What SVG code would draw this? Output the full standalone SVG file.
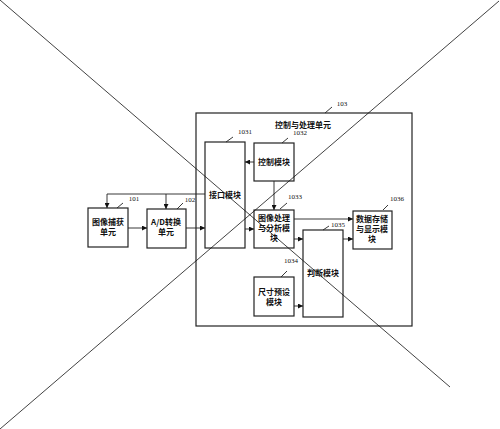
<svg xmlns="http://www.w3.org/2000/svg" width="500" height="429" viewBox="0 0 500 429">
<style>
.box{fill:#fff;stroke:#222;stroke-width:1.2}
.ln{fill:none;stroke:#222;stroke-width:0.9}
.t{font-family:"Noto Sans CJK SC","Liberation Serif",serif;font-size:8px;font-weight:bold;fill:#111;text-anchor:middle}
.n{font-family:"Liberation Serif",serif;font-size:7px;fill:#111;text-anchor:middle}
.x{stroke:#111;stroke-width:0.8;fill:none}
</style>
<defs>
<marker id="a" viewBox="0 0 6 6" refX="6" refY="3" markerWidth="5" markerHeight="5" orient="auto" markerUnits="userSpaceOnUse">
<path d="M0,0 L6,3 L0,6 Z" fill="#111"/>
</marker>
</defs>
<rect width="500" height="429" fill="#fff"/>
<g id="n103">
<rect class="box" x="196" y="113" width="216" height="213"/>
<text class="t" x="303" y="128">控制与处理单元</text>
<line class="ln" x1="325" y1="113" x2="332" y2="107"/>
<text class="n" x="342" y="106">103</text>
</g>
<g id="n101">
<rect class="box" x="88" y="208" width="40" height="39"/>
<text class="t" x="108" y="225">图像捕获</text>
<text class="t" x="108" y="235">单元</text>
<line class="ln" x1="117" y1="208" x2="123" y2="203"/>
<text class="n" x="134" y="201">101</text>
</g>
<g id="n102">
<rect class="box" x="147" y="209" width="39" height="39"/>
<text class="t" x="166" y="225">A/D转换</text>
<text class="t" x="166" y="235">单元</text>
<line class="ln" x1="177" y1="209" x2="183" y2="203"/>
<text class="n" x="190" y="202">102</text>
</g>
<g id="n1031">
<rect class="box" x="205" y="142" width="40" height="106"/>
<text class="t" x="225" y="198">接口模块</text>
<line class="ln" x1="226" y1="142" x2="233" y2="137"/>
<text class="n" x="245" y="134">1031</text>
</g>
<g id="n1032">
<rect class="box" x="254" y="143" width="40" height="38"/>
<text class="t" x="274" y="165">控制模块</text>
<line class="ln" x1="282" y1="143" x2="288" y2="138"/>
<text class="n" x="300" y="135">1032</text>
</g>
<g id="n1033">
<rect class="box" x="254" y="210" width="40" height="38"/>
<text class="t" x="274" y="221">图像处理</text>
<text class="t" x="274" y="231">与分析模</text>
<text class="t" x="274" y="241">块</text>
<line class="ln" x1="280" y1="209" x2="287" y2="203"/>
<text class="n" x="295" y="199">1033</text>
</g>
<g id="n1034">
<rect class="box" x="254" y="277" width="40" height="39"/>
<text class="t" x="274" y="295">尺寸预设</text>
<text class="t" x="274" y="305">模块</text>
<line class="ln" x1="281" y1="277" x2="287" y2="271"/>
<text class="n" x="291" y="263">1034</text>
</g>
<g id="n1035">
<rect class="box" x="303" y="230" width="40" height="87"/>
<text class="t" x="323" y="276">判断模块</text>
<line class="ln" x1="323" y1="230" x2="329" y2="226"/>
<text class="n" x="338" y="227">1035</text>
</g>
<g id="n1036">
<rect class="box" x="353" y="211" width="39" height="38"/>
<text class="t" x="372" y="222">数据存储</text>
<text class="t" x="372" y="232">与显示模</text>
<text class="t" x="372" y="242">块</text>
<line class="ln" x1="383" y1="210" x2="388" y2="205"/>
<text class="n" x="397" y="201">1036</text>
</g>
<g id="connectors">
<line class="ln" x1="128" y1="228" x2="147" y2="228" marker-end="url(#a)"/>
<line class="ln" x1="186" y1="228" x2="205" y2="228" marker-end="url(#a)"/>
<polyline class="ln" points="205,194 107,194 107,208" marker-end="url(#a)"/>
<line class="ln" x1="166" y1="194" x2="166" y2="209" marker-end="url(#a)"/>
<line class="ln" x1="254" y1="162" x2="245" y2="162" marker-end="url(#a)"/>
<line class="ln" x1="274" y1="181" x2="274" y2="210" marker-end="url(#a)"/>
<line class="ln" x1="245" y1="229" x2="254" y2="229" marker-end="url(#a)"/>
<line class="ln" x1="294" y1="219" x2="353" y2="219" marker-end="url(#a)"/>
<line class="ln" x1="294" y1="239" x2="303" y2="239" marker-end="url(#a)"/>
<line class="ln" x1="294" y1="306" x2="303" y2="306" marker-end="url(#a)"/>
<line class="ln" x1="343" y1="239" x2="353" y2="239" marker-end="url(#a)"/>
</g>
<g id="cross">
<line class="x" x1="0" y1="0" x2="450" y2="387"/>
<line class="x" x1="499" y1="1" x2="0" y2="429"/>
</g>
</svg>
